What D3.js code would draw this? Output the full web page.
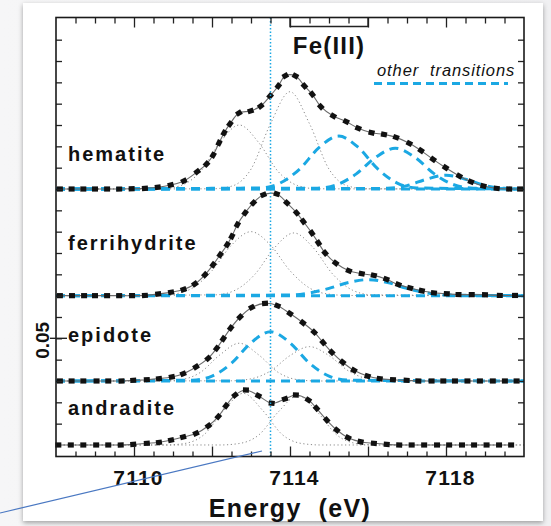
<!DOCTYPE html>
<html>
<head>
<meta charset="utf-8">
<script src="https://cdn.jsdelivr.net/npm/d3@7"></script>
<style>
body { margin: 0; background: linear-gradient(90deg, #f6f6f7 0%, #f0f0f2 100%); }
text { font-family: Arial, "Liberation Sans", Helvetica, sans-serif; }
</style>
</head>
<body>
<div id="chart"></div>
<script>
// ---- data (absorbance in units of 0.01, energies in eV) ----
var spectra = ['hematite', 'ferrihydrite', 'epidote', 'andradite'];
var offsets = [12, 7, 3, 0];

var hematiteE = [7108.10, 7108.40, 7108.70, 7109.00, 7109.31, 7109.62, 7109.94, 7110.28, 7110.61, 7110.94, 7111.28, 7111.62, 7111.86, 7112.03, 7112.18, 7112.31, 7112.46, 7112.69, 7112.99, 7113.25, 7113.49, 7113.70, 7113.88, 7114.14, 7114.37, 7114.57, 7114.79, 7115.11, 7115.44, 7115.75, 7116.09, 7116.41, 7116.72, 7117.06, 7117.36, 7117.67, 7117.99, 7118.34, 7118.64, 7118.96, 7119.30, 7119.62, 7119.90];
var hematiteA = [0, 0, 0, 0, 0, 0, 0.01, 0.03, 0.08, 0.19, 0.38, 0.81, 1.17, 1.59, 2.16, 2.63, 3.05, 3.56, 3.66, 3.89, 4.36, 4.83, 5.31, 5.30, 4.83, 4.44, 3.86, 3.42, 3.16, 2.85, 2.64, 2.56, 2.42, 2.14, 1.80, 1.39, 1.00, 0.61, 0.34, 0.14, 0.03, 0, 0];

var ferrihydriteE = [7108.10, 7108.41, 7108.72, 7109.00, 7109.31, 7109.62, 7109.95, 7110.28, 7110.62, 7110.95, 7111.27, 7111.56, 7111.82, 7112.03, 7112.21, 7112.39, 7112.51, 7112.65, 7112.85, 7113.06, 7113.32, 7113.66, 7113.92, 7114.17, 7114.34, 7114.56, 7114.73, 7114.90, 7115.17, 7115.51, 7115.84, 7116.15, 7116.47, 7116.78, 7117.08, 7117.38, 7117.69, 7118.02, 7118.32, 7118.66, 7119.00, 7119.38, 7119.77];
var ferrihydriteA = [0, 0, 0, 0, 0, 0, 0, 0.01, 0.08, 0.16, 0.29, 0.55, 0.98, 1.45, 1.92, 2.39, 2.78, 3.33, 3.88, 4.35, 4.73, 4.77, 4.35, 3.88, 3.48, 2.94, 2.47, 2.00, 1.53, 1.17, 1.03, 0.95, 0.77, 0.52, 0.36, 0.23, 0.13, 0.09, 0.05, 0.05, 0.04, 0.01, 0.01];

var epidoteE = [7108.10, 7108.40, 7108.70, 7109.04, 7109.34, 7109.68, 7109.98, 7110.33, 7110.64, 7110.97, 7111.26, 7111.59, 7111.90, 7112.12, 7112.29, 7112.48, 7112.72, 7113.02, 7113.36, 7113.68, 7114.00, 7114.33, 7114.62, 7114.85, 7115.07, 7115.35, 7115.64, 7115.99, 7116.30, 7116.64, 7116.99, 7117.29, 7117.63, 7117.93, 7118.23, 7118.55, 7118.87, 7119.20, 7119.51, 7119.81];
var epidoteA = [0, 0, 0, 0, 0, 0, 0.03, 0.06, 0.11, 0.19, 0.34, 0.66, 1.06, 1.53, 1.98, 2.48, 3.00, 3.45, 3.64, 3.53, 3.16, 2.73, 2.29, 1.80, 1.35, 0.88, 0.50, 0.23, 0.11, 0.06, 0.03, 0, 0, 0, 0, 0, 0, 0, 0, 0];

var andraditeE = [7108.06, 7108.38, 7108.70, 7109.03, 7109.34, 7109.66, 7109.98, 7110.33, 7110.64, 7110.95, 7111.26, 7111.59, 7111.91, 7112.16, 7112.36, 7112.59, 7112.87, 7113.19, 7113.53, 7113.87, 7114.15, 7114.47, 7114.68, 7114.94, 7115.20, 7115.49, 7115.81, 7116.15, 7116.48, 7116.80, 7117.12, 7117.44, 7117.77, 7118.08, 7118.41, 7118.72, 7119.04, 7119.36, 7119.67];
var andraditeA = [0, 0, 0, 0, 0, 0, 0.03, 0.08, 0.12, 0.23, 0.37, 0.54, 0.90, 1.33, 1.84, 2.34, 2.58, 2.31, 1.96, 2.16, 2.34, 2.11, 1.72, 1.17, 0.70, 0.34, 0.15, 0.08, 0.03, 0, 0, 0, 0, 0, 0, 0, 0, 0, 0];

// fitted Fe(III) 1s->3d components (gray dotted)
var hematitePeaks = [
  [[7110.7, 0.01], [7111.2, 0.16], [7111.7, 0.81], [7112.2, 2.17], [7112.7, 3.0], [7113.2, 2.17], [7113.7, 0.81], [7114.2, 0.16], [7114.7, 0.01]],
  [[7112.0, 0.01], [7112.5, 0.13], [7113.0, 0.93], [7113.5, 3.06], [7114.0, 4.56], [7114.5, 3.06], [7115.0, 0.93], [7115.5, 0.13], [7116.0, 0.01]]
];
var ferrihydritePeaks = [
  [[7110.5, 0.01], [7111.0, 0.07], [7111.5, 0.36], [7112.0, 1.17], [7112.5, 2.37], [7113.0, 3.0], [7113.5, 2.37], [7114.0, 1.17], [7114.5, 0.36], [7115.0, 0.07], [7115.5, 0.01]],
  [[7112.1, 0.04], [7112.6, 0.26], [7113.1, 1.0], [7113.6, 2.24], [7114.1, 2.94], [7114.6, 2.24], [7115.1, 1.0], [7115.6, 0.26], [7116.1, 0.04]]
];
var epidotePeaks = [
  [[7110.7, 0], [7111.2, 0.06], [7111.7, 0.40], [7112.2, 1.22], [7112.7, 1.77], [7113.2, 1.22], [7113.7, 0.40], [7114.2, 0.06], [7114.7, 0]],
  [[7112.5, 0.01], [7113.0, 0.10], [7113.5, 0.47], [7114.0, 1.19], [7114.5, 1.61], [7115.0, 1.19], [7115.5, 0.47], [7116.0, 0.10], [7116.5, 0.01]]
];
var andraditePeaks = [
  [[7110.8, 0], [7111.3, 0.07], [7111.8, 0.49], [7112.3, 1.62], [7112.8, 2.42], [7113.3, 1.62], [7113.8, 0.49], [7114.3, 0.07], [7114.8, 0]],
  [[7112.2, 0], [7112.7, 0.07], [7113.2, 0.47], [7113.7, 1.55], [7114.2, 2.31], [7114.7, 1.55], [7115.2, 0.47], [7115.7, 0.07], [7116.2, 0]]
];

// other transitions (blue dashed)
var hematiteOther = [
  [[7113.25, 0.05], [7113.75, 0.28], [7114.25, 0.94], [7114.75, 1.95], [7115.25, 2.48], [7115.75, 1.95], [7116.25, 0.94], [7116.75, 0.28], [7117.25, 0.05]],
  [[7114.7, 0.04], [7115.2, 0.20], [7115.7, 0.71], [7116.2, 1.49], [7116.7, 1.91], [7117.2, 1.49], [7117.7, 0.71], [7118.2, 0.20], [7118.7, 0.04]],
  [[7116.5, 0.03], [7117.0, 0.16], [7117.5, 0.46], [7118.0, 0.65], [7118.5, 0.46], [7119.0, 0.16], [7119.5, 0.03]]
];
var ferrihydriteOther = [
  [[7114.0, 0.03], [7114.5, 0.13], [7115.0, 0.34], [7115.5, 0.62], [7116.0, 0.75], [7116.5, 0.62], [7117.0, 0.34], [7117.5, 0.13], [7118.0, 0.03]]
];
var epidoteOther = [
  [[7111.5, 0.04], [7112.0, 0.23], [7112.5, 0.83], [7113.0, 1.79], [7113.5, 2.31], [7114.0, 1.79], [7114.5, 0.83], [7115.0, 0.23], [7115.5, 0.04]]
];
var andraditeOther = [];

var xLabelTicks = [7110, 7114, 7118];
var xMajorTicks = [7110, 7112, 7114, 7116, 7118];
var xMinorTicks = [7108.5, 7109, 7109.5, 7110.5, 7111, 7111.5, 7112.5, 7113, 7113.5, 7114.5, 7115, 7115.5, 7116.5, 7117, 7117.5, 7118.5, 7119, 7119.5];
var yTicks = [1, 2, 3, 4, 5, 6, 7, 8, 9, 10, 11, 12, 13, 14, 15, 16, 17, 18, 19];
var scaleTick = 5;          // the "0.05" marker
var edgeEnergy = 7113.5;    // vertical reference line
var bracket = [7114, 7116]; // Fe(III) range

// ---- layout ----
var width = 551;
var height = 526;
var plotLeft = 56, plotRight = 524, plotTop = 17.5, plotBottom = 456.5;
var blue = '#1ba8e3';

var svg = d3.select('#chart')
    .append('svg')
    .attr('width', width)
    .attr('height', height);

var defs = svg.append('defs');
var shadow = defs.append('filter').attr('id', 'shadow')
    .attr('x', '-5%').attr('y', '-5%').attr('width', '110%').attr('height', '110%');
shadow.append('feDropShadow')
    .attr('dx', 0).attr('dy', 2).attr('stdDeviation', 2.5)
    .attr('flood-color', '#000').attr('flood-opacity', 0.35);

svg.append('rect')
    .attr('x', 23).attr('y', 3)
    .attr('width', 520).attr('height', 518)
    .attr('fill', 'white')
    .attr('filter', 'url(#shadow)');

var xScale = d3.scaleLinear().domain([7108, 7120]).range([plotLeft, plotRight]);
var yScale = d3.scaleLinear().domain([-0.54, 20.04]).range([plotBottom, plotTop]);

var plot = svg.append('g');

var compLine = d3.line()
    .x(d => xScale(d[0]))
    .y(d => yScale(d[1]))
    .curve(d3.curveMonotoneX);

var fitLine = d3.line()
    .x(d => xScale(d[0]))
    .y(d => yScale(d[1]))
    .curve(d3.curveCatmullRom);

var allData = {
    hematite: [hematiteE, hematiteA, hematitePeaks, hematiteOther],
    ferrihydrite: [ferrihydriteE, ferrihydriteA, ferrihydritePeaks, ferrihydriteOther],
    epidote: [epidoteE, epidoteA, epidotePeaks, epidoteOther],
    andradite: [andraditeE, andraditeA, andraditePeaks, andraditeOther]
};

function shifted(pts, off) {
    var full = [[7108, 0]].concat(pts, [[7120, 0]]);
    return full.map(p => [p[0], p[1] + off]);
}

spectra.forEach(function(name, i) {
    var off = offsets[i];
    var set = allData[name];
    var g = plot.append('g').attr('class', 'spectrum ' + name);

    set[2].forEach(function(pk) {
        g.append('path')
            .attr('d', compLine(shifted(pk, off)))
            .attr('fill', 'none')
            .attr('stroke', '#8a8a8a')
            .attr('stroke-width', 1)
            .attr('stroke-dasharray', '1.2,2.6');
    });

    set[3].forEach(function(pk) {
        g.append('path')
            .attr('d', compLine(shifted(pk, off)))
            .attr('fill', 'none')
            .attr('stroke', blue)
            .attr('stroke-width', 3)
            .attr('stroke-dasharray', '9,6');
    });
    if (set[3].length) {
        // zero line of the other transitions
        g.append('line')
            .attr('x1', plotLeft).attr('x2', plotRight)
            .attr('y1', yScale(off)).attr('y2', yScale(off))
            .attr('stroke', blue).attr('stroke-width', 3)
            .attr('stroke-dasharray', '9,6');
    }

    var pts = set[0].map((e, j) => [e, set[1][j] + off]);

    g.append('path')
        .attr('d', fitLine(pts))
        .attr('fill', 'none')
        .attr('stroke', '#6b6b6b')
        .attr('stroke-width', 1.1);

    g.selectAll('rect.pt')
        .data(pts)
        .enter()
        .append('rect')
        .attr('class', 'pt')
        .attr('x', -3).attr('y', -2.6)
        .attr('width', 6).attr('height', 5.2)
        .attr('fill', '#111')
        .attr('transform', function(d, j) {
            var a = pts[Math.max(j - 1, 0)], b = pts[Math.min(j + 1, pts.length - 1)];
            var ang = Math.atan2(yScale(b[1]) - yScale(a[1]), xScale(b[0]) - xScale(a[0])) * 180 / Math.PI;
            return `translate(${xScale(d[0])},${yScale(d[1])})rotate(${ang})`;
        });

    g.append('text')
        .text(name)
        .attr('x', 68)
        .attr('y', yScale(off) - [28, 46, 39, 30][i])
        .attr('font-size', 20)
        .attr('font-weight', 'bold')
        .attr('letter-spacing', 2)
        .attr('fill', '#111');
});

// vertical reference line
svg.append('line')
    .attr('x1', xScale(edgeEnergy)).attr('x2', xScale(edgeEnergy))
    .attr('y1', plotTop).attr('y2', plotBottom)
    .attr('stroke', blue)
    .attr('stroke-width', 1.5)
    .attr('stroke-dasharray', '1.5,2');

// axes: ticks point inward
function tickAxis(axisFn, vals, size, tr) {
    var ax = svg.append('g')
        .attr('transform', tr)
        .call(axisFn.tickValues(vals).tickSize(size).tickFormat(''));
    ax.select('.domain').remove();
    ax.selectAll('line').attr('stroke', '#222').attr('stroke-width', 1.3);
    return ax;
}
tickAxis(d3.axisBottom(xScale), xMajorTicks, -10, `translate(0,${plotBottom})`);
tickAxis(d3.axisBottom(xScale), xMinorTicks, -5, `translate(0,${plotBottom})`);
tickAxis(d3.axisTop(xScale), xMajorTicks, -10, `translate(0,${plotTop})`);
tickAxis(d3.axisTop(xScale), xMinorTicks, -6, `translate(0,${plotTop})`);
tickAxis(d3.axisLeft(yScale), yTicks, -6, `translate(${plotLeft},0)`);
tickAxis(d3.axisRight(yScale), yTicks, -6, `translate(${plotRight},0)`);

var xLabels = svg.append('g')
    .attr('transform', `translate(4,${plotBottom})`)
    .call(d3.axisBottom(xScale).tickValues(xLabelTicks).tickSize(0).tickPadding(14).tickFormat(d3.format('d')));
xLabels.select('.domain').remove();
xLabels.selectAll('text')
    .attr('font-size', 21)
    .attr('font-weight', 'bold')
    .attr('letter-spacing', 1.2)
    .attr('font-family', 'Arial, "Liberation Sans", sans-serif')
    .attr('fill', '#111');

// frame
svg.append('rect')
    .attr('x', plotLeft).attr('y', plotTop)
    .attr('width', plotRight - plotLeft).attr('height', plotBottom - plotTop)
    .attr('fill', 'none')
    .attr('stroke', '#1a1a1a')
    .attr('stroke-width', 1.6);

// scale marker 0.05
svg.append('line')
    .attr('x1', 50).attr('x2', plotLeft + 11)
    .attr('y1', yScale(scaleTick)).attr('y2', yScale(scaleTick))
    .attr('stroke', '#222').attr('stroke-width', 1.4);
svg.append('text')
    .text(d3.format('.2f')(scaleTick / 100))
    .attr('transform', `translate(49,${yScale(scaleTick) + 2})rotate(-90)`)
    .attr('text-anchor', 'middle')
    .attr('font-size', 19)
    .attr('font-weight', 'bold')
    .attr('fill', '#111');

// Fe(III) bracket
svg.append('path')
    .attr('d', `M${xScale(bracket[0])},${plotTop}V${plotTop + 9}H${xScale(bracket[1])}V${plotTop}`)
    .attr('fill', 'none')
    .attr('stroke', '#222')
    .attr('stroke-width', 1.4);
svg.append('text')
    .text('Fe(III)')
    .attr('x', (xScale(bracket[0]) + xScale(bracket[1])) / 2)
    .attr('y', 54)
    .attr('text-anchor', 'middle')
    .attr('font-size', 24)
    .attr('font-weight', 'bold')
    .attr('letter-spacing', 1.2)
    .attr('fill', '#111');

// legend
svg.append('text')
    .text('other  transitions')
    .attr('x', 377)
    .attr('y', 76)
    .attr('font-size', 16.5)
    .attr('font-style', 'italic')
    .attr('letter-spacing', 0.9)
    .attr('fill', '#111')
    .style('white-space', 'pre');
svg.append('line')
    .attr('x1', 374).attr('x2', 508)
    .attr('y1', 83.5).attr('y2', 83.5)
    .attr('stroke', blue)
    .attr('stroke-width', 3)
    .attr('stroke-dasharray', '8,5');

// axis title
svg.append('text')
    .text('Energy  (eV)')
    .attr('x', 290)
    .attr('y', 517)
    .attr('text-anchor', 'middle')
    .attr('font-size', 25)
    .attr('font-weight', 'bold')
    .attr('letter-spacing', 1.4)
    .attr('fill', '#111')
    .style('white-space', 'pre');

// pointer line drawn over the figure
svg.append('line')
    .attr('x1', 0).attr('y1', 513)
    .attr('x2', 262).attr('y2', 451)
    .attr('stroke', '#4a78c2')
    .attr('stroke-width', 1.2);
</script>
</body>
</html>
